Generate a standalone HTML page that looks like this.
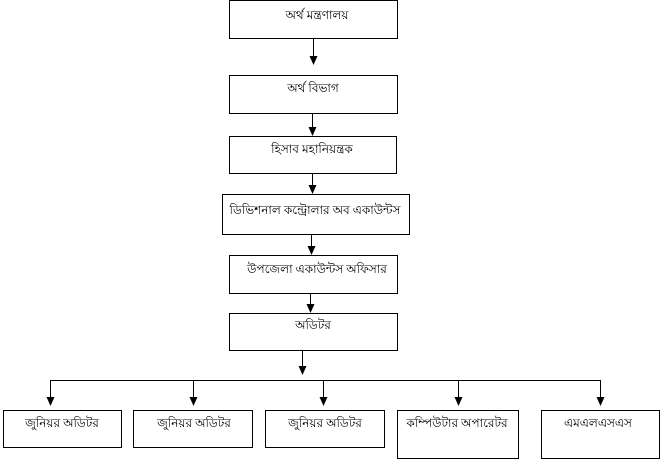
<!DOCTYPE html>
<html>
<head>
<meta charset="utf-8">
<style>
  html,body{margin:0;padding:0;background:#fff;}
  svg{display:block;}
  text{font-family:"Liberation Serif","Noto Sans CJK SC",serif;font-size:12px;fill:#000;}
</style>
</head>
<body>
<svg width="662" height="461" viewBox="0 0 662 461" xmlns="http://www.w3.org/2000/svg">
  <g fill="none" stroke="#000" stroke-width="1" shape-rendering="crispEdges">
    <rect x="229.5" y="0.5" width="168" height="38"/>
    <rect x="229.5" y="75.5" width="168" height="38"/>
    <rect x="229.5" y="136.5" width="167" height="37"/>
    <rect x="222.5" y="194.5" width="187" height="40"/>
    <rect x="229.5" y="255.5" width="168" height="38"/>
    <rect x="229.5" y="313.5" width="168" height="37"/>
    <rect x="3.5" y="410.5" width="118" height="37"/>
    <rect x="133.5" y="410.5" width="119" height="37"/>
    <rect x="265.5" y="410.5" width="119" height="37"/>
    <rect x="397.5" y="410.5" width="121" height="48"/>
    <rect x="541.5" y="410.5" width="118" height="48"/>
    <line x1="50.5" y1="380.5" x2="601" y2="380.5"/>
    <line x1="313.5" y1="39" x2="313.5" y2="58"/>
    <line x1="312.5" y1="114" x2="312.5" y2="130"/>
    <line x1="312.5" y1="174" x2="312.5" y2="188"/>
    <line x1="311.5" y1="235" x2="311.5" y2="249"/>
    <line x1="310.5" y1="294" x2="310.5" y2="307"/>
    <line x1="302.5" y1="351" x2="302.5" y2="368"/>
    <line x1="50.5" y1="380" x2="50.5" y2="400"/>
    <line x1="193.5" y1="380" x2="193.5" y2="400"/>
    <line x1="323.5" y1="380" x2="323.5" y2="400"/>
    <line x1="458.5" y1="380" x2="458.5" y2="400"/>
    <line x1="600.5" y1="380" x2="600.5" y2="400"/>
  </g>
  <g fill="#000" stroke="none">
    <polygon points="309.5,56 317.5,56 313.5,65"/>
    <polygon points="308.5,127 316.5,127 312.5,136"/>
    <polygon points="308.5,185 316.5,185 312.5,194"/>
    <polygon points="307.5,246 315.5,246 311.5,255"/>
    <polygon points="306.5,304 314.5,304 310.5,313"/>
    <polygon points="298.5,366 306.5,366 302.5,375"/>
    <polygon points="46.5,397 54.5,397 50.5,406"/>
    <polygon points="189.5,397 197.5,397 193.5,406"/>
    <polygon points="319.5,397 327.5,397 323.5,406"/>
    <polygon points="454.5,397 462.5,397 458.5,406"/>
    <polygon points="596.5,397 604.5,397 600.5,406"/>
  </g>
  <text x="317" y="19" text-anchor="middle">অর্থ মন্ত্রণালয়</text>
  <text x="313" y="92" text-anchor="middle">অর্থ বিভাগ</text>
  <text x="312" y="153" text-anchor="middle">হিসাব মহানিয়ন্ত্রক</text>
  <text x="315" y="214" text-anchor="middle">ডিভিশনাল কন্ট্রোলার অব একাউন্টস</text>
  <text x="317" y="273" text-anchor="middle">উপজেলা একাউন্টস অফিসার</text>
  <text x="313" y="329" text-anchor="middle">অডিটর</text>
  <text x="62" y="427" text-anchor="middle">জুনিয়র অডিটর</text>
  <text x="194" y="427" text-anchor="middle">জুনিয়র অডিটর</text>
  <text x="325" y="427" text-anchor="middle">জুনিয়র অডিটর</text>
  <text x="457" y="427" text-anchor="middle">কম্পিউটার অপারেটর</text>
  <text x="598" y="427" text-anchor="middle">এমএলএসএস</text>
</svg>
</body>
</html>
